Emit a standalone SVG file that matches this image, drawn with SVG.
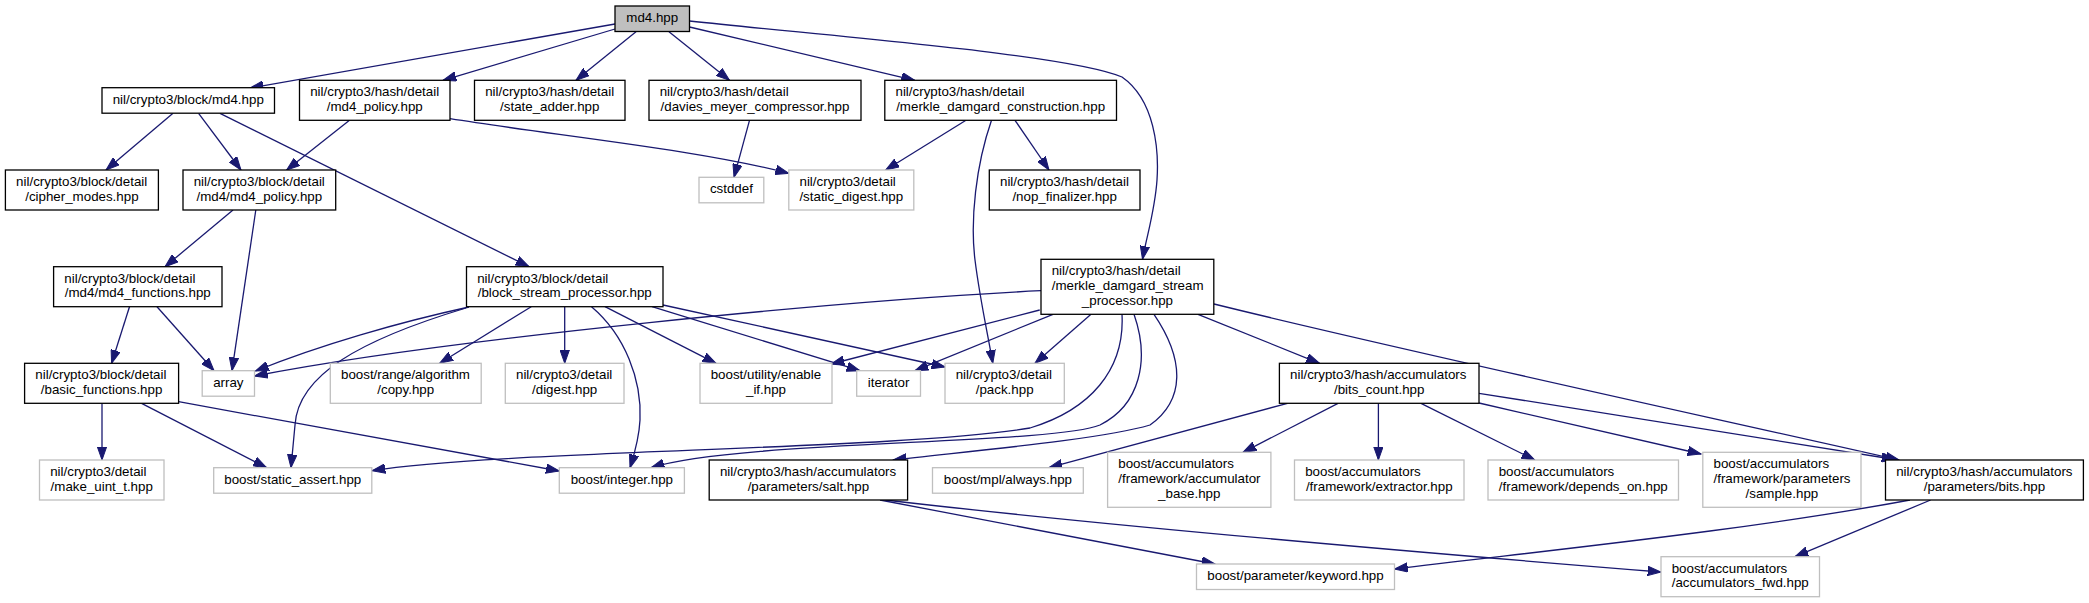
<svg xmlns="http://www.w3.org/2000/svg" width="2089" height="603" viewBox="0 0 2089 603">
<defs>
<marker id="ah" markerUnits="userSpaceOnUse" markerWidth="14" markerHeight="10" viewBox="0 0 14 10" refX="13.3" refY="5" orient="auto">
<path d="M0,0.3 L13.3,5 L0,9.7 z" fill="#191970" stroke="#191970" stroke-width="1"/>
</marker>
<style>
text{font-family:"Liberation Sans",Arial,Helvetica,sans-serif;font-size:13.33px;fill:#000}
.n rect{fill:#fff;stroke:#000;stroke-width:1.3}
.g rect{fill:#fff;stroke:#bfbfbf;stroke-width:1.3}
.r rect{fill:#bfbfbf;stroke:#000;stroke-width:1.3}
.m{text-anchor:middle}
#edges path{fill:none;stroke:#191970;stroke-width:1.3;marker-end:url(#ah)}
</style>
</defs>
<rect width="2089" height="603" fill="#fff"/>
<g id="edges">
<path d="M615,24 L250,88"/>
<path d="M615,29 L443,80.3"/>
<path d="M636,31.7 L576,80.3"/>
<path d="M669,31.7 L729.5,80.3"/>
<path d="M689.5,27 L914.7,80.3"/>
<path d="M689.5,21 C850,38 1070,55 1122,77 C1155,100 1159,150 1157,180 C1155,210 1147,235 1142.5,259.3"/>
<path d="M173,113.3 L106,170"/>
<path d="M198.6,113.3 L241,170"/>
<path d="M220,113.3 L529,266.7"/>
<path d="M349.5,120.3 L286.6,170"/>
<path d="M450,118.7 C560,136 700,150 788.8,173.3"/>
<path d="M749.5,120.3 L734,177.3"/>
<path d="M966,120.3 L885.7,170"/>
<path d="M1015,120.3 L1049,170"/>
<path d="M991.5,120.3 C976,165 970,220 975,260 C980,300 988,335 992.8,363.3"/>
<path d="M233,210 L165,266.7"/>
<path d="M255.8,210 L232,370.7"/>
<path d="M129.5,306.7 L111.6,363.3"/>
<path d="M157,306.7 L214,370.7"/>
<path d="M102,403.3 L102,460"/>
<path d="M141.6,403.3 L266.6,467.7"/>
<path d="M178.6,401.7 L559.3,471"/>
<path d="M469,307 C400,322 320,345 255.5,371"/>
<path d="M466,308 C360,340 298,375 295,425 L291,467.7"/>
<path d="M531.2,306.7 L439.7,363.3"/>
<path d="M564.7,306.7 L564.7,363.3"/>
<path d="M591.5,306.7 C625,335 642,380 640,420 C639,440 634,455 630,467.7"/>
<path d="M605,306.7 L716,363.3"/>
<path d="M652,306.7 L860,370.7"/>
<path d="M663,305 L945,367"/>
<path d="M1041,290.7 C850,300 450,338 254.5,376"/>
<path d="M1039.7,310 L831,364"/>
<path d="M1053,314.3 L915,370.7"/>
<path d="M1091,314.3 L1035,363.3"/>
<path d="M1122,314.3 C1125,370 1090,410 1030,428 C900,450 500,450 372,470.7"/>
<path d="M1134,314.3 C1150,360 1140,405 1100,425 C1050,445 740,440 651,467.7"/>
<path d="M1154,314.3 C1185,360 1185,400 1150,425 C1100,440 960,452 893,460"/>
<path d="M1198,314.3 L1319.5,363.3"/>
<path d="M1214,304 C1400,350 1700,415 1899,460"/>
<path d="M1287.5,403.3 L1049,467.7"/>
<path d="M1338,403.3 L1243,452.3"/>
<path d="M1378.4,403.3 L1378.4,460"/>
<path d="M1421,403.3 L1534.8,460"/>
<path d="M1479,403 L1701,454"/>
<path d="M1479,393.3 L1895,459.5"/>
<path d="M880,500 L1215,564"/>
<path d="M885,500 C1100,525 1450,555 1661,572"/>
<path d="M1910,500 C1750,530 1550,550 1394.5,569"/>
<path d="M1930.6,500 L1795,556.7"/>
</g>
<g id="md4_hpp" class="r"><rect x="615" y="6" width="74.5" height="25.5"/><text class="m" x="652.25" y="22.3">md4.hpp</text></g>
<g id="block_md4" class="n"><rect x="102" y="87.7" width="172.5" height="25.5"/><text class="m" x="188.25" y="103.7">nil/crypto3/block/md4.hpp</text></g>
<g id="hash_md4_policy" class="n"><rect x="299.5" y="80.3" width="150.5" height="40"/><text x="310.2" y="96.3">nil/crypto3/hash/detail</text><text class="m" x="374.75" y="111">/md4_policy.hpp</text></g>
<g id="state_adder" class="n"><rect x="474.5" y="80.3" width="150.5" height="40"/><text x="485.2" y="96.3">nil/crypto3/hash/detail</text><text class="m" x="549.75" y="111">/state_adder.hpp</text></g>
<g id="davies" class="n"><rect x="649" y="80.3" width="212" height="40"/><text x="659.7" y="96.3">nil/crypto3/hash/detail</text><text class="m" x="755" y="111">/davies_meyer_compressor.hpp</text></g>
<g id="merkle_construction" class="n"><rect x="884.8" y="80.3" width="231.7" height="40"/><text x="895.5" y="96.3">nil/crypto3/hash/detail</text><text class="m" x="1000.65" y="111">/merkle_damgard_construction.hpp</text></g>
<g id="cipher_modes" class="n"><rect x="5.4" y="170" width="153" height="40"/><text x="16.1" y="186">nil/crypto3/block/detail</text><text class="m" x="81.9" y="200.7">/cipher_modes.hpp</text></g>
<g id="md4_md4_policy" class="n"><rect x="183" y="170" width="152.7" height="40"/><text x="193.7" y="186">nil/crypto3/block/detail</text><text class="m" x="259.35" y="200.7">/md4/md4_policy.hpp</text></g>
<g id="cstddef" class="g"><rect x="699" y="177.3" width="64.8" height="25.5"/><text class="m" x="731.4" y="193.3">cstddef</text></g>
<g id="static_digest" class="g"><rect x="788.8" y="170" width="125" height="40"/><text x="799.5" y="186">nil/crypto3/detail</text><text class="m" x="851.3" y="200.7">/static_digest.hpp</text></g>
<g id="nop_finalizer" class="n"><rect x="989.3" y="170" width="150.7" height="40"/><text x="1000" y="186">nil/crypto3/hash/detail</text><text class="m" x="1064.65" y="200.7">/nop_finalizer.hpp</text></g>
<g id="md4_functions" class="n"><rect x="53.6" y="266.7" width="168.4" height="40"/><text x="64.3" y="282.7">nil/crypto3/block/detail</text><text class="m" x="137.8" y="297.4">/md4/md4_functions.hpp</text></g>
<g id="block_stream" class="n"><rect x="466.5" y="266.7" width="196.5" height="40"/><text x="477.2" y="282.7">nil/crypto3/block/detail</text><text class="m" x="564.75" y="297.4">/block_stream_processor.hpp</text></g>
<g id="merkle_stream" class="n"><rect x="1041" y="259.3" width="172.8" height="55"/><text x="1051.7" y="275.3">nil/crypto3/hash/detail</text><text x="1051.7" y="290">/merkle_damgard_stream</text><text class="m" x="1127.4" y="304.6">_processor.hpp</text></g>
<g id="basic_functions" class="n"><rect x="24.6" y="363.3" width="154" height="40"/><text x="35.3" y="379.3">nil/crypto3/block/detail</text><text class="m" x="101.6" y="394">/basic_functions.hpp</text></g>
<g id="array" class="g"><rect x="202.2" y="370.7" width="52.3" height="25.5"/><text class="m" x="228.35" y="386.7">array</text></g>
<g id="copy" class="g"><rect x="330.3" y="363.3" width="150.9" height="40"/><text x="341" y="379.3">boost/range/algorithm</text><text class="m" x="405.75" y="394">/copy.hpp</text></g>
<g id="digest" class="g"><rect x="505.3" y="363.3" width="118.7" height="40"/><text x="516" y="379.3">nil/crypto3/detail</text><text class="m" x="564.65" y="394">/digest.hpp</text></g>
<g id="enable_if" class="g"><rect x="700" y="363.3" width="132" height="40"/><text x="710.7" y="379.3">boost/utility/enable</text><text class="m" x="766" y="394">_if.hpp</text></g>
<g id="iterator" class="g"><rect x="856.7" y="370.7" width="63.8" height="25.5"/><text class="m" x="888.6" y="386.7">iterator</text></g>
<g id="pack" class="g"><rect x="945" y="363.3" width="119.3" height="40"/><text x="955.7" y="379.3">nil/crypto3/detail</text><text class="m" x="1004.65" y="394">/pack.hpp</text></g>
<g id="bits_count" class="n"><rect x="1279.4" y="363.3" width="199.6" height="40"/><text x="1290.1" y="379.3">nil/crypto3/hash/accumulators</text><text class="m" x="1379.2" y="394">/bits_count.hpp</text></g>
<g id="make_uint_t" class="g"><rect x="39.5" y="460" width="124.5" height="40"/><text x="50.2" y="476">nil/crypto3/detail</text><text class="m" x="101.75" y="490.7">/make_uint_t.hpp</text></g>
<g id="static_assert" class="g"><rect x="213.7" y="467.7" width="158.1" height="25.5"/><text class="m" x="292.75" y="483.7">boost/static_assert.hpp</text></g>
<g id="integer" class="g"><rect x="559.3" y="467.7" width="125.1" height="25.5"/><text class="m" x="621.85" y="483.7">boost/integer.hpp</text></g>
<g id="salt" class="n"><rect x="709.2" y="460" width="198.4" height="40"/><text x="719.9" y="476">nil/crypto3/hash/accumulators</text><text class="m" x="808.4" y="490.7">/parameters/salt.hpp</text></g>
<g id="always" class="g"><rect x="932.5" y="467.7" width="150.8" height="25.5"/><text class="m" x="1007.9" y="483.7">boost/mpl/always.hpp</text></g>
<g id="accumulator_base" class="g"><rect x="1107.6" y="452.3" width="163.3" height="55"/><text x="1118.3" y="468.3">boost/accumulators</text><text x="1118.3" y="483">/framework/accumulator</text><text class="m" x="1189.25" y="497.6">_base.hpp</text></g>
<g id="extractor" class="g"><rect x="1294.5" y="460" width="169.5" height="40"/><text x="1305.2" y="476">boost/accumulators</text><text class="m" x="1379.25" y="490.7">/framework/extractor.hpp</text></g>
<g id="depends_on" class="g"><rect x="1488" y="460" width="190.5" height="40"/><text x="1498.7" y="476">boost/accumulators</text><text class="m" x="1583.25" y="490.7">/framework/depends_on.hpp</text></g>
<g id="sample" class="g"><rect x="1702.8" y="452.3" width="158.2" height="55"/><text x="1713.5" y="468.3">boost/accumulators</text><text x="1713.5" y="483">/framework/parameters</text><text class="m" x="1781.9" y="497.6">/sample.hpp</text></g>
<g id="bits" class="n"><rect x="1885.5" y="460" width="197.9" height="40"/><text x="1896.2" y="476">nil/crypto3/hash/accumulators</text><text class="m" x="1984.45" y="490.7">/parameters/bits.hpp</text></g>
<g id="keyword" class="g"><rect x="1196.5" y="564" width="198" height="25.5"/><text class="m" x="1295.5" y="580">boost/parameter/keyword.hpp</text></g>
<g id="accumulators_fwd" class="g"><rect x="1661" y="556.7" width="158.5" height="40"/><text x="1671.7" y="572.7">boost/accumulators</text><text class="m" x="1740.25" y="587.4">/accumulators_fwd.hpp</text></g>
</svg>
